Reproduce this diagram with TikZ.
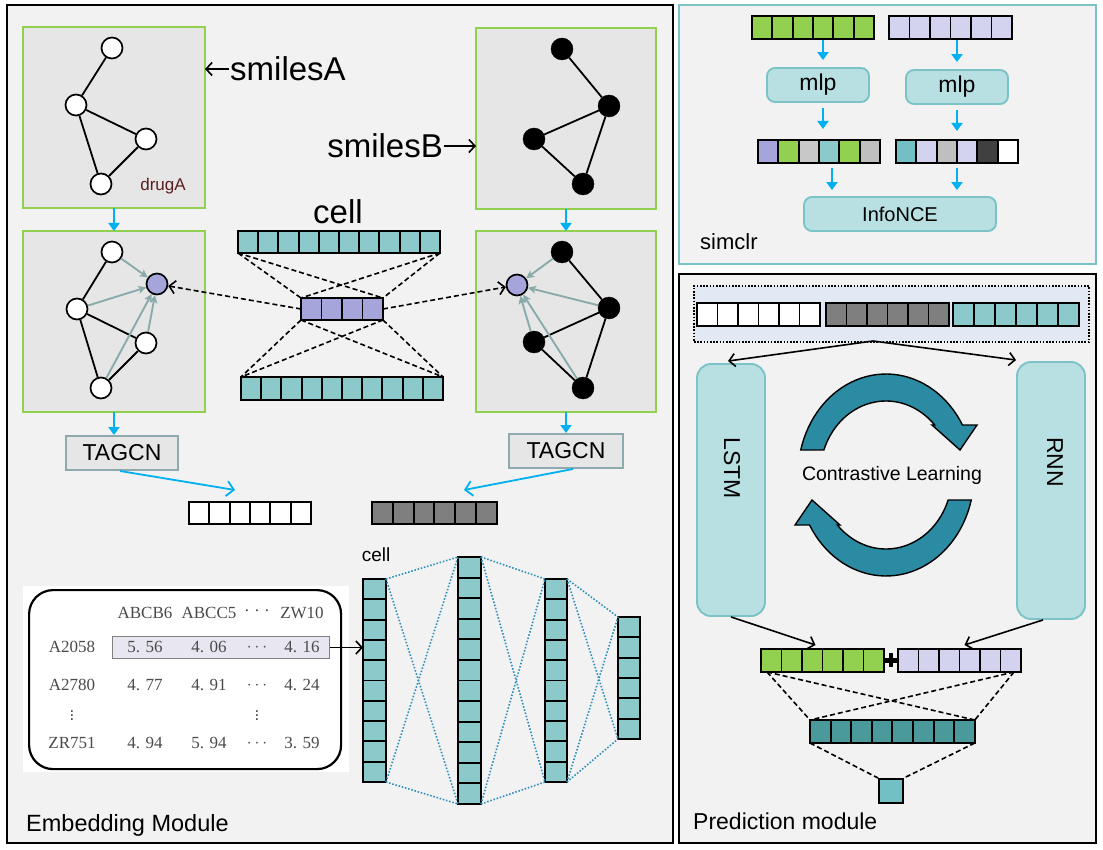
\documentclass[tikz,border=0pt]{standalone}
\usepackage{fontspec}
\setmainfont{Liberation Sans}
\newfontfamily\tabfont{Liberation Serif}
\usetikzlibrary{arrows.meta}
\definecolor{panelbg}{HTML}{F2F2F2}
\definecolor{graphbg}{HTML}{E6E6E6}
\definecolor{gborder}{HTML}{92D050}
\definecolor{tealc}{HTML}{8CC9CA}
\definecolor{purp}{HTML}{A5A5DC}
\definecolor{arrblue}{HTML}{00B0F0}
\definecolor{garrow}{HTML}{8AABAB}
\definecolor{lav}{HTML}{D3D3F0}
\definecolor{grn}{HTML}{92D050}
\definecolor{boxfill}{HTML}{B8E0E2}
\definecolor{boxline}{HTML}{7CC3C7}
\definecolor{cyc}{HTML}{2B8BA2}
\definecolor{darkteal}{HTML}{4A9A9C}
\definecolor{outsq}{HTML}{72BFC4}
\definecolor{nnline}{HTML}{2A8DBA}
\definecolor{tagline}{HTML}{8EAAAF}
\definecolor{dotbg}{HTML}{E2E8F4}
\definecolor{hlbg}{HTML}{E8E6F0}
\definecolor{drugc}{HTML}{5A1E1E}
\definecolor{gry}{HTML}{7F7F7F}
\definecolor{lgA}{HTML}{C8C8C8}
\definecolor{lgB}{HTML}{BFBFBF}
\definecolor{dkg}{HTML}{404040}
\definecolor{tabtxt}{HTML}{4A4A4A}
\newcommand\myfs[1]{\fontsize{#1}{#1}\selectfont}
\newcommand\hvec[7]{%
  \foreach \ii in {1,...,#4}{\draw[cellln,fill=#7] ({#2+(\ii-1)*#5},{#3}) rectangle ({#2+\ii*#5},{#3+#6});}
  \node[inner sep=0pt,outer sep=0pt,minimum width={#4*#5*1pt},minimum height={#6*1pt},anchor=north west] (#1) at (#2,#3) {};}
\newcommand\vvec[7]{%
  \foreach \ii in {1,...,#4}{\draw[cellln,fill=#7] ({#2},{#3+(\ii-1)*#6}) rectangle ({#2+#5},{#3+\ii*#6});}
  \node[inner sep=0pt,outer sep=0pt,minimum width={#5*1pt},minimum height={#4*#6*1pt},anchor=north west] (#1) at (#2,#3) {};}
\newcommand\mvec[7]{%
  \foreach \cc [count=\ii from 0] in {#7}{\draw[cellln,fill=\cc] ({#2+\ii*#5},{#3}) rectangle ({#2+(\ii+1)*#5},{#3+#6});}
  \node[inner sep=0pt,outer sep=0pt,minimum width={#4*#5*1pt},minimum height={#6*1pt},anchor=north west] (#1) at (#2,#3) {};}
\begin{document}
\begin{tikzpicture}[x=1pt,y=-1pt,
  cellln/.style={draw=black,line width=1.9pt},
  panel/.style={draw=black,fill=panelbg,line width=2.2pt,inner sep=0pt,outer sep=0pt,anchor=north west},
  gbox/.style={draw=gborder,fill=graphbg,line width=2pt,inner sep=0pt,outer sep=0pt,anchor=north west},
  gnode/.style={circle,draw=black,fill=white,line width=1.7pt,minimum size=21pt,inner sep=0pt},
  bnode/.style={circle,draw=black,fill=black,minimum size=22pt,inner sep=0pt},
  pnode/.style={gnode,fill=purp},
  gedge/.style={line width=1.8pt},
  garr/.style={draw=garrow,line width=1.9pt,-{Stealth[length=8pt,width=8pt,inset=2pt]}},
  barr/.style={draw=arrblue,line width=2pt,-{Triangle[length=8pt,width=11pt]}},
  bopen/.style={draw=arrblue,line width=1.8pt,-{Straight Barb[length=7pt,width=15pt]}},
  sarr/.style={line width=1.6pt,-{Straight Barb[length=6pt,width=13pt]}},
  dsh/.style={line width=1.6pt,dash pattern=on 5pt off 3pt},
  dotl/.style={draw=nnline,line width=1.6pt,dash pattern=on 1.5pt off 1.8pt},
  rbox/.style={rounded corners=8pt,draw=boxline,fill=boxfill,line width=1.9pt,inner sep=0pt},
  tagbox/.style={draw=tagline,fill=graphbg,line width=2pt,inner sep=0pt},
  tt/.style={font={\tabfont\myfs{17}},text=tabtxt,inner sep=0pt},
  cycst/.style={fill=cyc,draw=black,line width=1.4pt}
]
\useasboundingbox (0,0) rectangle (1103,850);
\fill[white] (0,0) rectangle (1103,850);

% ---------------- panels
\node[panel,minimum width=666pt,minimum height=838pt] (emb) at (7,5) {};
\node[panel,draw=boxline,minimum width=417pt,minimum height=259pt] (simp) at (679,5) {};
\node[panel,minimum width=417pt,minimum height=569pt] (predp) at (679,274) {};

% ---------------- drug graphs
\node[gbox,minimum width=182pt,minimum height=181pt] (gA1) at (23,27) {};
\node[gbox,minimum width=182pt,minimum height=181pt] (gA2) at (23,231) {};
\node[gbox,minimum width=180pt,minimum height=181pt] (gB1) at (476,28) {};
\node[gbox,minimum width=180pt,minimum height=181pt] (gB2) at (476,231) {};

% A1
\node[gnode] (a1t) at (112,48) {};
\node[gnode] (a1m) at (76,105) {};
\node[gnode] (a1r) at (146,139) {};
\node[gnode] (a1b) at (101,184) {};
\draw[gedge] (a1t)--(a1m) (a1m)--(a1r) (a1m)--(a1b) (a1r)--(a1b);
\node[font={\myfs{17}},text=drugc,inner sep=0pt] (drugA) at (163,186) {drugA};

% A2
\node[gnode] (a2t) at (112,252) {};
\node[gnode] (a2m) at (77,309) {};
\node[gnode] (a2r) at (146,343) {};
\node[gnode] (a2b) at (101,388) {};
\node[pnode] (a2p) at (157,284) {};
\draw[gedge] (a2t)--(a2m) (a2m)--(a2r) (a2m)--(a2b) (a2r)--(a2b);
\draw[garr] (a2t)--(a2p);
\draw[garr] (a2m)--(a2p);
\draw[garr] (a2b)--(a2p);
\draw[garr] (a2r)--(a2p);

% B1
\node[bnode] (b1t) at (562,49) {};
\node[bnode] (b1r) at (609,106) {};
\node[bnode] (b1l) at (534,139) {};
\node[bnode] (b1b) at (583,184) {};
\draw[gedge] (b1t)--(b1r) (b1r)--(b1l) (b1l)--(b1b) (b1r)--(b1b);

% B2
\node[bnode] (b2t) at (562,252) {};
\node[bnode] (b2r) at (609,308) {};
\node[bnode] (b2l) at (534,342) {};
\node[bnode] (b2b) at (583,388) {};
\node[pnode] (b2p) at (517,285) {};
\draw[gedge] (b2t)--(b2r) (b2r)--(b2l) (b2l)--(b2b) (b2r)--(b2b);
\draw[garr] (b2t)--(b2p);
\draw[garr] (b2r)--(b2p);
\draw[garr] (b2l)--(b2p);
\draw[garr] (b2b)--(b2p);

% smiles labels
\node[anchor=west,inner sep=1pt,font={\myfs{33}}] (smA) at (229,69) {smilesA};
\draw[sarr] (smA.west) -- (smA.west -| gA1.east);
\node[anchor=east,inner sep=1pt,font={\myfs{33}}] (smB) at (444,146) {smilesB};
\draw[sarr] (smB.east) -- (smB.east -| gB1.west);

% blue arrows between graph boxes
\draw[barr] (gA1.south) -- (gA2.north);
\draw[barr] (gB1.south) -- (gB2.north);

% TAGCN
\node[tagbox,minimum width=112pt,minimum height=34pt,font={\myfs{23}}] (tagA) at (122,453) {TAGCN};
\node[tagbox,minimum width=114pt,minimum height=34pt,font={\myfs{23}}] (tagB) at (566,451) {TAGCN};
\draw[barr] (gA2.south) -- (gA2.south |- tagA.north);
\draw[barr] (gB2.south) -- (gB2.south |- tagB.north);

\hvec{wA}{189}{502}{6}{20.33}{22}{white}
\hvec{gB}{372}{502}{6}{20.8}{22}{gry}
\coordinate (tipA) at (235,490);
\coordinate (tipB) at (464,490);
\draw[bopen] ([xshift=-2pt]tagA.south) -- (tipA);
\draw[bopen] ([xshift=7pt]tagB.south) -- (tipB);

% ---------------- cell encoder (middle)
\node[font={\myfs{33}},inner sep=0pt] (cellbig) at (338,212) {cell};
\hvec{ctop}{238}{231}{10}{20.2}{22}{tealc}
\hvec{cmid}{301}{298}{4}{20.5}{22}{purp}
\hvec{cbot}{241}{377}{10}{20.2}{23}{tealc}
\draw[dsh] (ctop.south west) -- (cmid.north west);
\draw[dsh] (ctop.south west) -- (cmid.north east);
\draw[dsh] (ctop.south east) -- (cmid.north west);
\draw[dsh] (ctop.south east) -- (cmid.north east);
\draw[dsh] (cmid.south west) -- (cbot.north west);
\draw[dsh] (cmid.south west) -- (cbot.north east);
\draw[dsh] (cmid.south east) -- (cbot.north west);
\draw[dsh] (cmid.south east) -- (cbot.north east);
\draw[dsh,-{Straight Barb[length=6pt,width=13pt]}] (cmid.west) -- (a2p);
\draw[dsh,-{Straight Barb[length=6pt,width=13pt]}] (cmid.east) -- (b2p);

% ---------------- expression table
\node[fill=white,inner sep=0pt,minimum width=326pt,minimum height=186pt,anchor=north west] (tabbg) at (23,586) {};
\node[draw=black,line width=2.2pt,rounded corners=24pt,inner sep=0pt,minimum width=312pt,minimum height=179pt,anchor=north west] (tabfr) at (28,589) {};
\node[draw=gray,fill=hlbg,line width=1pt,inner sep=0pt,minimum width=217pt,minimum height=22pt,anchor=north west] (hl) at (112,636) {};
\node[tt] (h1) at (145,613) {ABCB6};
\node[tt] (h2) at (209,613) {ABCC5};
\node[tt] (h3) at (257,611) {. . .};
\node[tt] (h4) at (302,613) {ZW10};
\node[tt] (r1) at (72,647) {A2058};
\node[tt] (r1a) at (145,647) {5. 56};
\node[tt] (r1b) at (209,647) {4. 06};
\node[tt] (r1c) at (257,648) {$\cdots$};
\node[tt] (r1d) at (302,647) {4. 16};
\node[tt] (r2) at (72,685) {A2780};
\node[tt] (r2a) at (145,685) {4. 77};
\node[tt] (r2b) at (209,685) {4. 91};
\node[tt] (r2c) at (257,686) {$\cdots$};
\node[tt] (r2d) at (302,685) {4. 24};
\node[tt,font={\myfs{17}}] (v1) at (72,713) {$\vdots$};
\node[tt,font={\myfs{17}}] (v2) at (257,713) {$\vdots$};
\node[tt] (r3) at (72,743) {ZR751};
\node[tt] (r3a) at (145,743) {4. 94};
\node[tt] (r3b) at (209,743) {5. 94};
\node[tt] (r3c) at (257,744) {$\cdots$};
\node[tt] (r3d) at (302,743) {3. 59};

% ---------------- cell MLP
\node[font={\myfs{19}},inner sep=0pt] (cellsm) at (376,555) {cell};
\vvec{nn1}{363}{579}{10}{23}{20.3}{tealc}
\vvec{nn2}{458}{557}{12}{23}{20.58}{tealc}
\vvec{nn3}{545}{579}{10}{22}{20.3}{tealc}
\vvec{nn4}{618}{617}{6}{22}{20.33}{tealc}
\draw[sarr] (hl.east) -- (hl.east -| nn1.west);
\foreach \p/\q in {nn1/nn2,nn2/nn3,nn3/nn4}{
  \draw[dotl] (\p.north east) -- (\q.north west);
  \draw[dotl] (\p.north east) -- (\q.south west);
  \draw[dotl] (\p.south east) -- (\q.north west);
  \draw[dotl] (\p.south east) -- (\q.south west);
}
\node[anchor=base west,font={\myfs{23.5}},inner sep=0pt] (embl) at (26,831) {Embedding Module};

% ---------------- simclr
\hvec{sg}{752}{16}{6}{20.33}{23}{grn}
\hvec{sl}{889}{16}{6}{20.5}{23}{lav}
\node[rbox,minimum width=102pt,minimum height=34pt,font={\myfs{23}}] (mlpL) at (818,85) {mlp};
\node[rbox,minimum width=102pt,minimum height=34pt,font={\myfs{23}}] (mlpR) at (957,87) {mlp};
\mvec{smL}{758}{140}{6}{20.33}{23}{purp,grn,lgA,tealc,grn,lgB}
\mvec{smR}{896}{140}{6}{20.33}{23}{outsq,lav,lgB,lav,dkg,white}
\node[rbox,minimum width=192pt,minimum height=34pt,font={\myfs{20}}] (info) at (900,214) {InfoNCE};
\draw[barr,shorten <=1pt,shorten >=7pt] ([xshift=5pt]mlpL.north |- sg.south) -- ([xshift=5pt]mlpL.north);
\draw[barr,shorten <=1pt,shorten >=7pt] (mlpR.north |- sl.south) -- (mlpR.north);
\draw[barr,shorten <=5pt,shorten >=11pt] ([xshift=5pt]mlpL.south) -- ([xshift=5pt]mlpL.south |- smL.north);
\draw[barr,shorten <=5pt,shorten >=9pt] (mlpR.south) -- (mlpR.south |- smR.north);
\draw[barr,shorten <=5pt,shorten >=6pt] ([xshift=13pt]smL.south) -- ([xshift=13pt]smL.south |- info.north);
\draw[barr,shorten <=5pt,shorten >=6pt] (smR.south) -- (smR.south |- info.north);
\node[anchor=base west,font={\myfs{22}},inner sep=0pt] (siml) at (700,250) {simclr};

% ---------------- prediction module
\node[draw=black,fill=dotbg,line width=1.8pt,dash pattern=on 1.6pt off 1.6pt,inner sep=0pt,minimum width=395pt,minimum height=56pt,anchor=north west] (cont) at (693,285) {};
\hvec{pw}{697}{303}{6}{20.5}{23}{white}
\hvec{pgr}{826}{303}{6}{20.5}{23}{gry}
\hvec{pt}{953}{303}{6}{21}{23}{tealc}
\node[rbox,rounded corners=14pt,minimum width=68pt,minimum height=252pt] (lstm) at (731,490) {};
\node[rbox,rounded corners=14pt,minimum width=68pt,minimum height=257pt] (rnn) at (1051,490.5) {};
\node[rotate=-90,font={\myfs{23}},inner sep=0pt] (lstmt) at (732,468) {LSTM};
\node[rotate=-90,font={\myfs{23}},inner sep=0pt] (rnnt) at (1055,462) {RNN};
\coordinate (split) at (873,341);
\draw[sarr] (split) -- ([xshift=-3pt,yshift=2pt]lstm.north);
\draw[sarr] (split) -- ([yshift=1pt]rnn.north west);

% cycle arrows
\draw[cycst] plot[domain=194.33:330.33,samples=40] ({886+88*cos(\x)},{475+101*sin(\x)})
  -- (977,425) -- (960,450) -- (932,425)
  -- plot[domain=317.5:199.75,samples=40] ({886+66*cos(\x)},{475+74*sin(\x)}) -- cycle;
\begin{scope}[rotate around={180:(886,475)}]
\draw[cycst] plot[domain=194.33:330.33,samples=40] ({886+88*cos(\x)},{475+101*sin(\x)})
  -- (977,425) -- (960,450) -- (932,425)
  -- plot[domain=317.5:199.75,samples=40] ({886+66*cos(\x)},{475+74*sin(\x)}) -- cycle;
\end{scope}
\node[font={\myfs{19.5}},inner sep=0pt] (cl) at (892,475) {Contrastive Learning};

% concat + head
\hvec{pg}{761}{649}{6}{20.5}{23}{grn}
\hvec{pl}{898}{649}{6}{20.5}{23}{lav}
\draw[line width=4.5pt] (pg.east) -- (pl.west);
\draw[line width=4.5pt] (891,653) -- (891,667);
\draw[sarr] (lstm.south) -- ([xshift=-7pt,yshift=4pt]pg.north);
\draw[sarr] ([xshift=-8pt]rnn.south) -- ([xshift=5pt,yshift=4pt]pl.north);
\hvec{dt}{810}{720}{8}{20.6}{23}{darkteal}
\node[draw=black,fill=outsq,line width=1.9pt,inner sep=0pt,minimum size=24pt,anchor=north west] (outn) at (878,778) {};
\draw[dsh] ([xshift=6pt]pg.south west) -- (dt.north west);
\draw[dsh] ([xshift=6pt]pg.south west) -- (dt.north east);
\draw[dsh] ([xshift=-7pt]pl.south east) -- (dt.north west);
\draw[dsh] ([xshift=-7pt]pl.south east) -- (dt.north east);
\draw[dsh] (dt.south west) -- (outn.north west);
\draw[dsh] (dt.south east) -- (outn.north east);
\node[anchor=base west,font={\myfs{23}},inner sep=0pt] (predl) at (693,829) {Prediction module};
\end{tikzpicture}
\end{document}
